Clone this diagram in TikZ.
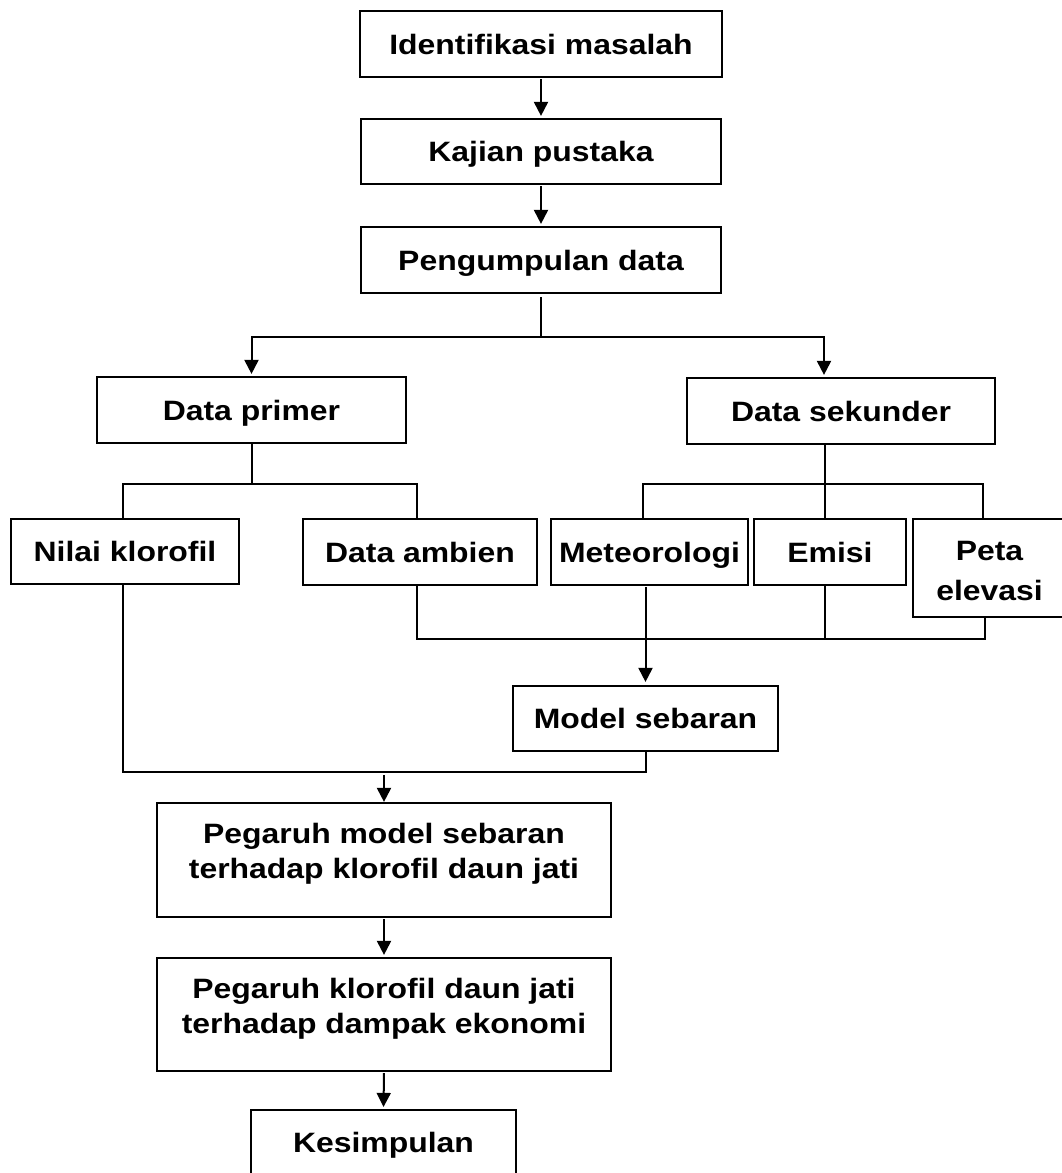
\documentclass[tikz,border=0pt]{standalone}
\usepackage{fontspec}
\setmainfont{Liberation Sans}[FakeStretch=1.14]
\usetikzlibrary{arrows.meta}
\begin{document}
\begin{tikzpicture}[x=1pt,y=-1pt,
  box/.style={draw, line width=2.2pt, inner sep=0pt, align=center,
    font=\bfseries\fontsize{28}{35}\selectfont},
  one/.style={text height=20pt, text depth=0pt},
  ln/.style={line width=2pt},
  arr/.style={line width=2pt, -{Triangle[length=14pt,width=14pt]}, shorten >=2pt, shorten <=1pt}]
\useasboundingbox (0,0) rectangle (1062,1173);
\clip (0,0) rectangle (1062,1173);

% boxes
\node[box,one,minimum width=362pt,minimum height=66pt] (ident) at (541,44) {Identifikasi masalah};
\node[box,one,minimum width=360pt,minimum height=65pt] (kajian) at (541,151.5) {Kajian pustaka};
\node[box,one,minimum width=360pt,minimum height=66pt] (pengum) at (541,260) {Pengumpulan data};
\node[box,one,minimum width=309pt,minimum height=66pt] (primer) at (251.5,410) {Data primer};
\node[box,one,minimum width=308pt,minimum height=66pt] (sekunder) at (841,411) {Data sekunder};
\node[box,one,minimum width=228pt,minimum height=65pt] (nilai) at (125,551.5) {Nilai klorofil};
\node[box,one,minimum width=234pt,minimum height=66pt] (ambien) at (420,552) {Data ambien};
\node[box,one,minimum width=197pt,minimum height=66pt] (meteo) at (649.5,552) {Meteorologi};
\node[box,one,minimum width=152pt,minimum height=66pt] (emisi) at (830,552) {Emisi};
\node[box,minimum width=153pt,minimum height=98pt,text height=64pt,text depth=0pt,
  font=\bfseries\fontsize{28}{40}\selectfont] (peta) at (989.5,568) {Peta\\elevasi};
\node[box,one,minimum width=265pt,minimum height=65pt] (model) at (645.5,718.5) {Model sebaran};
\node[box,minimum width=454pt,minimum height=114pt,text height=55pt,text depth=18.5pt] (peng1) at (384,860)
  {Pegaruh model sebaran\\terhadap klorofil daun jati};
\node[box,minimum width=454pt,minimum height=113pt,text height=55pt,text depth=18pt] (peng2) at (384,1014.5)
  {Pegaruh klorofil daun jati\\terhadap dampak ekonomi};
\node[box,one,minimum width=265pt,minimum height=65pt] (kesim) at (383.5,1142.5) {Kesimpulan};

% top chain
\draw[arr] (ident.south) -- (kajian.north);
\draw[arr] (kajian.south) -- (pengum.north);

% split to primer / sekunder
\draw[ln, shorten <=3pt] (pengum.south) -- ++(0,43) coordinate (b1);
\draw[arr, shorten <=0pt] (b1) -| (primer.north);
\draw[arr, shorten <=0pt] (b1) -| ([xshift=-17pt]sekunder.north);

% primer children
\draw[ln] (primer.south) -- ++(0,40) coordinate (pb);
\draw[ln] (pb) -| ([xshift=-2pt]nilai.north);
\draw[ln] (pb) -| ([xshift=-3pt]ambien.north);

% sekunder children
\draw[ln] ([xshift=-16pt]sekunder.south) -- ++(0,39) coordinate (sb);
\draw[ln] (sb) -| ([xshift=-6.5pt]meteo.north);
\draw[ln] (sb) -- ([xshift=-5pt]emisi.north);
\draw[ln] (sb) -| ([xshift=-6.5pt]peta.north);

% collector to model sebaran
\draw[ln] ([xshift=-3pt]ambien.south) -- ++(0,53) coordinate (cb)
  -| ([xshift=-4.5pt]peta.south);
\draw[ln] ([xshift=-5pt]emisi.south) coordinate (es) -- (es |- cb);
\draw[arr, shorten >=3pt] ([xshift=-4pt]meteo.south) -- (model.north);

% collector to pegaruh
\draw[ln] (model.south) -- ++(0,20) coordinate (mb) -| ([xshift=-2pt]nilai.south);
\coordinate (j) at (mb -| peng1.north);
\draw[arr, shorten <=3pt, shorten >=0pt] (j) -- (peng1.north);
\draw[arr] (peng1.south) -- (peng2.north);
\draw[arr] (peng2.south) -- (kesim.north);
\end{tikzpicture}
\end{document}
